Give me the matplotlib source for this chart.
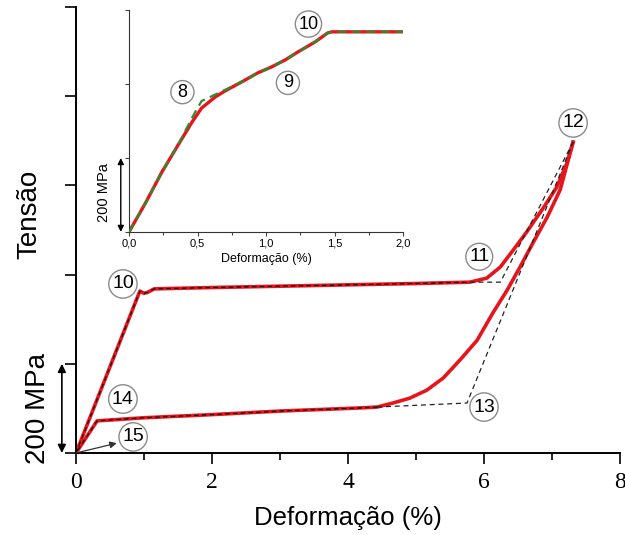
import matplotlib.pyplot as plt
import numpy as np

# main curve: loading (0 -> 12) and unloading (12 -> 0), strain in %, stress in MPa
load_x = [0, 0.3, 0.6, 0.9, 0.94, 1.0, 1.05, 1.15, 2, 3, 4, 5, 5.79,
          6.04, 6.24, 6.43, 6.63, 6.87, 7.07, 7.22, 7.31]
load_y = [0, 116, 232, 348, 363, 358, 360, 368, 371, 374, 377, 380, 383,
          392, 417, 455, 496, 549, 596, 650, 697]
unload_x = [7.31, 7.12, 6.93, 6.72, 6.53, 6.34, 6.13, 5.90, 5.65, 5.40, 5.16,
            4.91, 4.66, 4.43, 4.18, 3.0, 2.0, 1.0, 0.31, 0.0]
unload_y = [697, 590, 529, 471, 417, 365, 314, 253, 209, 168, 141,
            123, 112, 103, 101, 94, 86, 79, 72, 0]

# construction lines (dashed)
tang1_x = [5.79, 6.24, 7.31]
tang1_y = [383, 383, 697]
tang2_x = [4.43, 5.75, 7.31]
tang2_y = [103, 112, 697]

main_labels = ['10', '14', '15', '11', '12', '13']
main_lab_x = [0.69, 0.69, 0.84, 5.93, 7.31, 6.0]
main_lab_y = [379, 121, 36, 440, 740, 103]

# inset
in_red_x = [0, 0.12, 0.24, 0.36, 0.46, 0.53, 0.63, 0.70, 0.82, 0.94, 1.04,
            1.14, 1.23, 1.36, 1.45, 1.48, 2.0]
in_red_y = [0, 78, 162, 236, 297, 335, 365, 381, 405, 430, 446,
            465, 486, 514, 538, 541, 541]
in_grn_x = [0, 0.12, 0.24, 0.36, 0.41, 0.48, 0.53, 0.61, 0.70, 0.82, 0.94, 1.04,
            1.14, 1.23, 1.36, 1.45, 1.48, 2.0]
in_grn_y = [0, 78, 162, 236, 273, 322, 354, 368, 384, 405, 430, 446,
            465, 486, 514, 538, 541, 541]
in_labels = ['8', '9', '10']
in_lab_x = [0.39, 1.16, 1.31]
in_lab_y = [378, 403, 562]

plt.rcParams['font.family'] = ['Liberation Sans', 'DejaVu Sans']

fig = plt.figure(figsize=(6.25, 5.35), dpi=100)
ax = fig.add_axes([0.1216, 0.1533, 0.8704, 0.8336])

red = '#e8141c'
dash = (0, (4, 3))
ax.plot(load_x, load_y, color=red, lw=2.6, zorder=2)
ax.plot(unload_x, unload_y, color=red, lw=2.6, zorder=2)
ax.plot(load_x[:13], load_y[:13], color='k', lw=0.8, ls=dash, zorder=3)
ax.plot(unload_x[-7:], unload_y[-7:], color='k', lw=0.8, ls=dash, zorder=3)
ax.plot(tang1_x, tang1_y, color='#222222', lw=0.9, ls=dash, zorder=3)
ax.plot(tang2_x, tang2_y, color='#222222', lw=0.9, ls=dash, zorder=3)

ax.set_xlim(0, 8)
ax.set_ylim(0, 1000)
ax.set_xticks([0, 2, 4, 6, 8])
ax.set_xticks([1, 3, 5, 7], minor=True)
ax.set_yticks([0, 200, 400, 600, 800, 1000])
ax.set_yticklabels([])
ax.tick_params(axis='x', which='major', length=8, width=1.2, labelsize=17, pad=6)
ax.tick_params(axis='x', which='minor', length=5, width=1.2)
ax.tick_params(axis='y', length=8, width=1.2)
for lab in ax.get_xticklabels():
    lab.set_fontfamily('Liberation Serif')
ax.spines['top'].set_visible(False)
ax.spines['right'].set_visible(False)
ax.spines['left'].set_linewidth(1.4)
ax.spines['bottom'].set_linewidth(1.4)
ax.set_xlabel('Deformação (%)', fontsize=18.5, labelpad=9)

ytr = ax.get_yaxis_transform()
ax.text(-0.085, 534, 'Tensão', rotation=90, fontsize=20, ha='center', va='center',
        transform=ytr)
ax.text(-0.07, 100, '200 MPa', rotation=90, fontsize=20, ha='center', va='center',
        transform=ytr)
ax.annotate('', xy=(-0.026, 200), xytext=(-0.026, 0), xycoords=ytr, textcoords=ytr,
            arrowprops=dict(arrowstyle='<|-|>', color='k', lw=1.2, mutation_scale=12,
                            shrinkA=0, shrinkB=0))

ax.annotate('', xy=(0.6, 22), xytext=(0, 0),
            arrowprops=dict(arrowstyle='-|>', color='#333333', lw=0.9, mutation_scale=10,
                            shrinkA=0, shrinkB=0))

for t, x, y in zip(main_labels, main_lab_x, main_lab_y):
    ax.text(x, y, t, fontsize=14, ha='center', va='center', zorder=5,
            bbox=dict(boxstyle='circle,pad=0.17', fc='white', ec='#8a8a8a', lw=1))

# inset
ax_in = fig.add_axes([0.2064, 0.5664, 0.4384, 0.4149])
ax_in.plot(in_red_x, in_red_y, color=red, lw=2.4, zorder=2)
ax_in.plot(in_grn_x, in_grn_y, color='#2e8b2e', lw=1.6, ls=(0, (4, 2.5)), zorder=3)
ax_in.set_xlim(0, 2)
ax_in.set_ylim(0, 600)
ax_in.set_xticks([0, 0.5, 1.0, 1.5, 2.0])
ax_in.set_xticklabels(['0,0', '0,5', '1,0', '1,5', '2,0'])
ax_in.set_xticks([0.25, 0.75, 1.25, 1.75], minor=True)
ax_in.set_yticks([0, 200, 400, 600])
ax_in.set_yticklabels([])
ax_in.tick_params(axis='both', which='major', length=3, width=0.8, color='#444444',
                  labelsize=8, pad=2)
ax_in.tick_params(axis='x', which='minor', length=2, width=0.8, color='#444444')
ax_in.spines['top'].set_visible(False)
ax_in.spines['right'].set_visible(False)
for s in ['left', 'bottom']:
    ax_in.spines[s].set_linewidth(0.8)
    ax_in.spines[s].set_color('#333333')
ax_in.patch.set_alpha(0)
ax_in.set_xlabel('Deformação (%)', fontsize=9, labelpad=3)

itr = ax_in.get_yaxis_transform()
ax_in.text(-0.092, 106, '200 MPa', rotation=90, fontsize=10.5, ha='center', va='center',
           transform=itr)
ax_in.annotate('', xy=(-0.03, 200), xytext=(-0.03, 0), xycoords=itr, textcoords=itr,
               arrowprops=dict(arrowstyle='<|-|>', color='k', lw=1.0, mutation_scale=9,
                               shrinkA=0, shrinkB=0))

for t, x, y in zip(in_labels, in_lab_x, in_lab_y):
    ax_in.text(x, y, t, fontsize=13, ha='center', va='center', zorder=5,
               bbox=dict(boxstyle='circle,pad=0.17', fc='white', ec='#8a8a8a', lw=1))

fig.savefig('out.png', dpi=100)
